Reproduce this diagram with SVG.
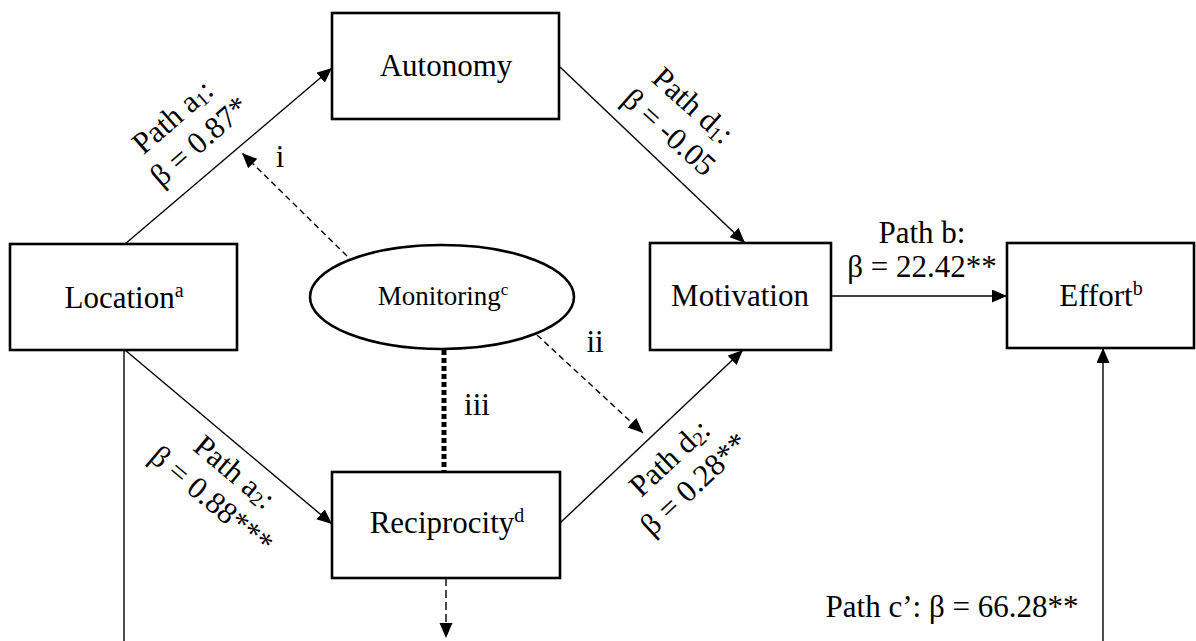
<svg xmlns="http://www.w3.org/2000/svg" width="1196" height="641" viewBox="0 0 1196 641" font-family="Liberation Serif, Times New Roman, DejaVu Serif, serif">
  <defs>
    <marker id="arrow" markerUnits="userSpaceOnUse" markerWidth="16" markerHeight="14" refX="15" refY="6.5" orient="auto">
      <path d="M0,0 L15,6.5 L0,13 z" fill="#000"/>
    </marker>
    <style>
      .node { fill: #fff; stroke: #000; stroke-width: 2.6; }
      .lbl { font-family: 'Liberation Serif', 'Times New Roman', 'DejaVu Serif', serif; font-size: 31px; text-anchor: middle; fill: #000; }
      .sm { font-family: 'Liberation Serif', 'Times New Roman', 'DejaVu Serif', serif; font-size: 27px; text-anchor: middle; fill: #000; }
      .path { fill: none; stroke: #000; stroke-width: 1.4; }
      .dash { fill: none; stroke: #000; stroke-width: 1.4; stroke-dasharray: 6 4; }
      .dot { fill: none; stroke: #000; stroke-width: 5; stroke-dasharray: 5 3; }
    </style>
  </defs>
  <rect width="1196" height="641" fill="#fff"/>

  <!-- connectors -->
  <g id="connectors">
    <line class="path" x1="125" y1="244" x2="332" y2="68" marker-end="url(#arrow)"/>
    <line class="path" x1="125" y1="350" x2="332" y2="524" marker-end="url(#arrow)"/>
    <line class="path" x1="560" y1="67" x2="745" y2="243" marker-end="url(#arrow)"/>
    <line class="path" x1="560" y1="523" x2="743" y2="350" marker-end="url(#arrow)"/>
    <line class="path" x1="831" y1="296" x2="1007" y2="296" marker-end="url(#arrow)"/>
    <line class="path" x1="1103" y1="641" x2="1103" y2="348" marker-end="url(#arrow)"/>
    <line class="path" x1="124" y1="350" x2="124" y2="641"/>
    <line class="dash" x1="347" y1="256" x2="242" y2="153" marker-end="url(#arrow)"/>
    <line class="dash" x1="537" y1="335" x2="643" y2="433" marker-end="url(#arrow)"/>
    <line class="dot" x1="444" y1="350" x2="444" y2="472"/>
    <line class="dash" x1="446" y1="578" x2="446" y2="638" style="stroke-dasharray: 8 4" marker-end="url(#arrow)"/>

    <!-- path labels -->
    <g transform="translate(186,129) rotate(-41)">
      <text class="lbl" x="-2" y="-8">Path a<tspan font-size="20" dy="3">1</tspan><tspan dy="-3">:</tspan></text>
      <text class="lbl" x="2" y="28">β = 0.87*</text>
    </g>
    <g transform="translate(681,119) rotate(42)">
      <text class="lbl" x="0" y="-8">Path d<tspan font-size="20" dy="3">1</tspan><tspan dy="-3">:</tspan></text>
      <text class="lbl" x="0" y="28">β = -0.05</text>
    </g>
    <g transform="translate(223,486) rotate(40)">
      <text class="lbl" x="0" y="-8">Path a<tspan font-size="20" dy="3">2</tspan><tspan dy="-3">:</tspan></text>
      <text class="lbl" x="0" y="28">β = 0.88***</text>
    </g>
    <g transform="translate(682,471) rotate(-43)">
      <text class="lbl" x="0" y="-8">Path d<tspan font-size="20" dy="3">2</tspan><tspan dy="-3">:</tspan></text>
      <text class="lbl" x="0" y="28">β = 0.28**</text>
    </g>
    <text class="lbl" x="922" y="243">Path b:</text>
    <text class="lbl" x="922" y="277">β = 22.42**</text>
    <text class="lbl" x="952" y="617">Path c’: β = 66.28**</text>
    <text class="lbl" x="280" y="167">i</text>
    <text class="lbl" x="595" y="352">ii</text>
    <text class="lbl" x="477" y="415">iii</text>
  </g>

  <g id="autonomy">
    <rect class="node" x="332" y="13" width="227" height="106"/>
    <text class="lbl" x="446" y="76">Autonomy</text>
  </g>
  <g id="location">
    <rect class="node" x="10" y="244" width="227" height="106"/>
    <text class="lbl" x="124" y="308">Location<tspan font-size="20" dy="-11">a</tspan></text>
  </g>
  <g id="monitoring">
    <ellipse class="node" cx="442" cy="297" rx="132" ry="52"/>
    <text class="sm" x="443" y="305">Monitoring<tspan font-size="17" dy="-10">c</tspan></text>
  </g>
  <g id="motivation">
    <rect class="node" x="650" y="243" width="181" height="107"/>
    <text class="lbl" x="740" y="306">Motivation</text>
  </g>
  <g id="effort">
    <rect class="node" x="1007" y="243" width="187" height="105"/>
    <text class="lbl" x="1101" y="306">Effort<tspan font-size="20" dy="-11">b</tspan></text>
  </g>
  <g id="reciprocity">
    <rect class="node" x="332" y="472" width="228" height="106"/>
    <text class="lbl" x="447" y="533">Reciprocity<tspan font-size="20" dy="-11">d</tspan></text>
  </g>
</svg>
